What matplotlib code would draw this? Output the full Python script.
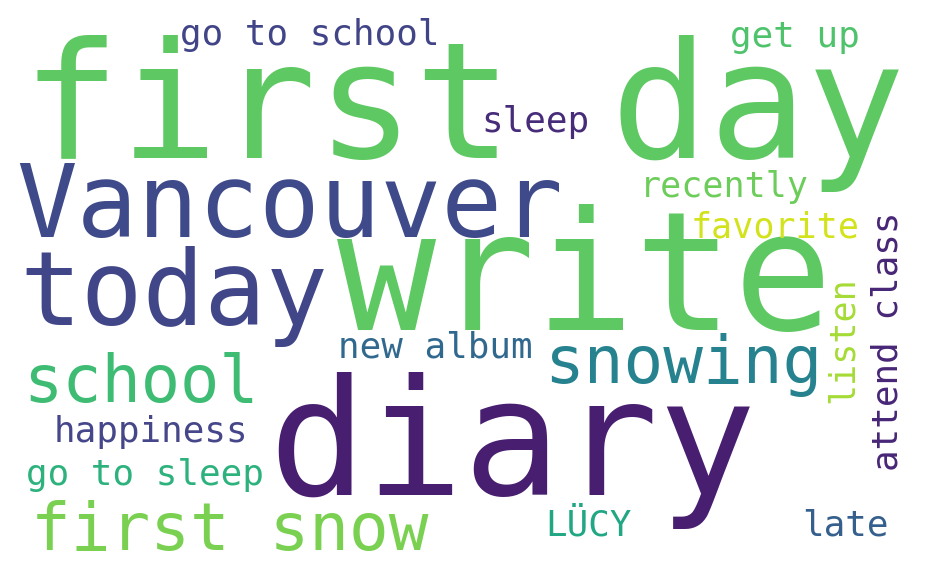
import matplotlib
matplotlib.use("Agg")
import matplotlib.pyplot as plt

# ---- data: words and their relative weights (word-cloud frequencies) ----
words = ["first day", "write", "diary", "Vancouver", "today",
         "first snow", "snowing", "school",
         "go to school", "get up", "sleep", "recently", "favorite",
         "attend class", "listen", "new album", "happiness",
         "go to sleep", "LÜCY", "late"]
weights = [1.00, 1.01, 0.995, 0.62, 0.63,
           0.405, 0.405, 0.40,
           0.22, 0.22, 0.22, 0.215, 0.215,
           0.22, 0.215, 0.22, 0.22,
           0.22, 0.22, 0.22]

# ---- layout (pixel positions in the 929x570 canvas) and styles ----
xs = [464, 585, 512, 290, 174,
      230, 683, 141,
      310, 795, 535, 724, 775,
      898, 853, 435, 151,
      145, 589, 845]
ys = [158, 330, 495, 237, 325,
      550, 383, 402,
      45, 47, 132, 197, 237,
      341, 340, 357, 442,
      485, 535, 535]
rotations = [0, 0, 0, 0, 0,
             0, 0, 0,
             0, 0, 0, 0, 0,
             90, 90, 0, 0,
             0, 0, 0]
colors = ["#5ec962", "#5ec962", "#481f70", "#3e4a89", "#404688",
          "#7ad151", "#26828e", "#3fbc73",
          "#414487", "#4ec36b", "#472c7a", "#6ccd5a", "#d2e21b",
          "#482677", "#a5db36", "#31688e", "#46468a",
          "#2db27d", "#22a785", "#35608d"]

MAX_EM_PX = 163  # pixel em-size of the reference word
W, H, DPI = 929, 570, 100

fig = plt.figure(figsize=(W / DPI, H / DPI), dpi=DPI)
fig.patch.set_facecolor("white")
ax = fig.add_axes([0, 0, 1, 1])
ax.set_xlim(0, W)
ax.set_ylim(H, 0)
ax.axis("off")

for w, wt, x, y, r, c in zip(words, weights, xs, ys, rotations, colors):
    size_pt = MAX_EM_PX * wt * 72 / DPI
    ax.text(x, y, w, fontsize=size_pt, color=c, family="DejaVu Sans Mono",
            ha="center", va="baseline", rotation=r, rotation_mode="anchor")

fig.savefig("out.png", dpi=DPI, facecolor="white")
